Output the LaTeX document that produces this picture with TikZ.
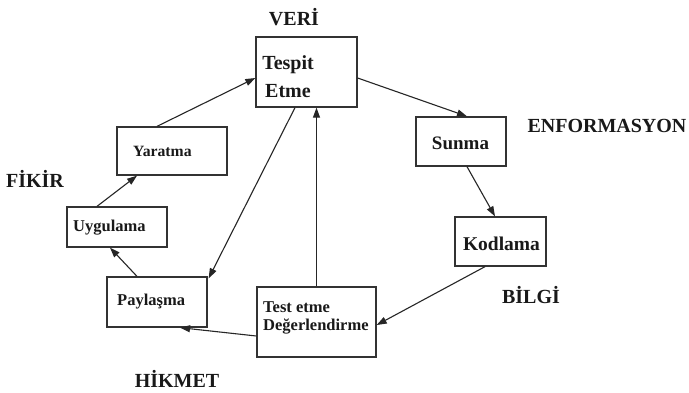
\documentclass[tikz,border=0pt]{standalone}
\usepackage{fontspec}
\setmainfont{Liberation Serif}
\usetikzlibrary{arrows.meta,calc}
\begin{document}
\begin{tikzpicture}[x=1pt,y=-1pt,
  box/.style={draw=black!80,line width=1.3pt,inner sep=0pt,fill=white},
  lbl/.style={font=\fontsize{20}{20}\selectfont\bfseries,text=black!90,inner sep=0pt},
  txt/.style={text=black!90,inner sep=0pt},
  arr/.style={draw=black!85,line width=1.1pt,-{Triangle[length=10pt,width=7pt]}}]
\useasboundingbox[fill=white] (0,0) rectangle (689,392);
% boxes
\node[box,minimum width=101pt,minimum height=70pt] (tespit) at (306.5,72) {};
\node[box,minimum width=90pt,minimum height=49pt] (sunma) at (461,141.5) {};
\node[box,minimum width=91pt,minimum height=49pt] (kodlama) at (500.5,241.5) {};
\node[box,minimum width=119pt,minimum height=70pt] (test) at (316.5,322) {};
\node[box,minimum width=100pt,minimum height=50pt] (paylasma) at (157,302) {};
\node[box,minimum width=100pt,minimum height=40pt] (uygulama) at (117,227) {};
\node[box,minimum width=110pt,minimum height=48pt] (yaratma) at (172,151) {};
% box texts
\node[txt,font=\fontsize{20}{20}\selectfont\bfseries] (t1) at (288,65) {Tespit};
\node[txt,font=\fontsize{20}{20}\selectfont\bfseries] (t2) at (288,91) {Etme};
\node[txt,font=\fontsize{19}{19}\selectfont\bfseries] (t3) at (460.5,143) {Sunma};
\node[txt,font=\fontsize{19.5}{19.5}\selectfont\bfseries] (t4) at (501.5,244) {Kodlama};
\node[txt,font=\fontsize{16.5}{16.5}\selectfont\bfseries,anchor=west] (t5) at (263,307) {Test etme};
\node[txt,font=\fontsize{16.5}{16.5}\selectfont\bfseries,anchor=west] (t6) at (263,327) {Değerlendirme};
\node[txt,font=\fontsize{16.5}{16.5}\selectfont\bfseries,anchor=west] (t7) at (117,302) {Paylaşma};
\node[txt,font=\fontsize{16.5}{16.5}\selectfont\bfseries,anchor=west] (t8) at (73,228) {Uygulama};
\node[txt,font=\fontsize{15.7}{15.7}\selectfont\bfseries,anchor=west] (t9) at (133,151) {Yaratma};
% outer labels
\node[lbl] (veri) at (294,17) {VERİ};
\node[lbl] (enf) at (607,126) {ENFORMASYON};
\node[lbl] (fikir) at (35,179) {FİKİR};
\node[lbl] (bilgi) at (531,295) {BİLGİ};
\node[lbl] (hikmet) at (177,379) {HİKMET};
% arrows
\draw[arr] ([xshift=-15pt]yaratma.north) -- ([yshift=-6pt]tespit.west);
\draw[arr] ([yshift=-6pt]tespit.east) -- ([xshift=6pt]sunma.north);
\draw[arr] ([xshift=6pt]sunma.south) -- ([xshift=-5.5pt]kodlama.north);
\draw[arr] ([xshift=-15.5pt]kodlama.south) -- ([yshift=-3pt]test.east);
\draw[arr] (test.north) -- (test.north |- tespit.south);
\draw[arr] ([xshift=-11.5pt]tespit.south) -- ([xshift=1pt,yshift=-2pt]paylasma.north east);
\draw[arr] ([yshift=-14pt]test.west) -- ([xshift=23pt]paylasma.south);
\draw[arr] ([xshift=-20pt]paylasma.north) -- ([xshift=-7pt]uygulama.south);
\draw[arr] ([xshift=-20pt]uygulama.north) -- ([xshift=-35pt]yaratma.south);
\end{tikzpicture}
\end{document}
